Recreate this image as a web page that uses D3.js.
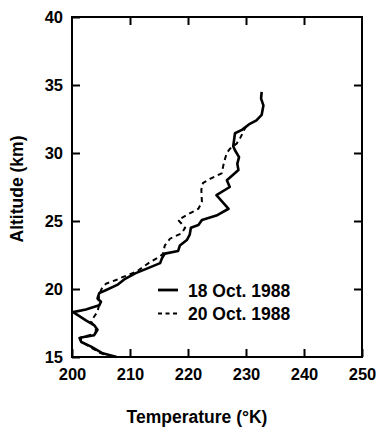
<!DOCTYPE html>
<html>
<head>
<meta charset="utf-8">
<script src="https://cdn.jsdelivr.net/npm/d3@7"></script>
<style>
  body { margin: 0; background: #fff; }
  text { font-family: "Liberation Sans", Arial, sans-serif; font-weight: bold; fill: #000; }
</style>
</head>
<body>
<div id="chart"></div>
<script>
// temperature profiles, 18 & 20 Oct 1988
const alt18 = [15.0, 15.27, 15.76, 16.1, 16.4, 16.5, 16.6, 17.0, 17.35, 17.7, 18.3, 18.5, 18.8, 19.07, 19.3, 19.7, 19.93, 20.3, 20.7, 21.15, 21.5, 21.9, 22.25, 22.6, 22.8, 23.2, 23.6, 24.0, 24.5, 24.7, 25.07, 25.4, 25.9, 26.9, 27.5, 28.0, 28.75, 29.2, 29.7, 30.2, 30.5, 31.45, 31.7, 32.1, 32.4, 32.8, 33.5, 34.0, 34.5];
const temp18 = [207.7, 205.3, 203.3, 201.6, 201.3, 202.4, 203.8, 204.4, 203.8, 202.4, 200.2, 202.4, 204.7, 205.0, 204.4, 204.7, 205.9, 207.8, 209.0, 210.9, 212.9, 215.2, 215.5, 216.0, 218.3, 218.6, 219.8, 220.3, 220.5, 221.8, 222.4, 224.9, 227.0, 224.9, 227.2, 226.7, 228.7, 228.5, 228.8, 228.1, 227.8, 228.1, 229.3, 230.5, 231.8, 232.7, 233.0, 232.6, 232.7];

const alt20 = [15.0, 15.3, 15.8, 16.15, 16.45, 16.6, 16.8, 17.1, 17.6, 17.96, 18.33, 18.7, 19.3, 19.7, 20.1, 20.4, 20.66, 20.8, 21.3, 21.9, 22.4, 22.6, 23.2, 23.7, 24.1, 24.5, 24.8, 25.07, 25.5, 25.9, 26.4, 27.3, 27.8, 28.1, 28.5, 29.1, 29.6, 30.0, 30.3, 30.7, 31.1, 31.8, 32.1];
const temp20 = [207.0, 204.8, 202.9, 201.5, 201.6, 203.0, 204.1, 204.1, 203.3, 203.8, 204.4, 204.6, 204.6, 204.8, 205.2, 205.9, 207.6, 208.3, 211.2, 213.2, 215.2, 215.7, 216.0, 216.9, 218.9, 219.5, 218.9, 218.3, 220.0, 221.8, 222.4, 222.3, 222.6, 223.8, 225.8, 226.1, 226.4, 226.7, 227.2, 228.4, 229.0, 229.8, 230.3];

const xTicks = [200, 210, 220, 230, 240, 250];
const yTicks = [15, 20, 25, 30, 35, 40];
const legendLabels = ["18 Oct. 1988", "20 Oct. 1988"];

const width = 378, height = 430;
const margin = { top: 17, right: 16, bottom: 73, left: 72 };
const innerW = width - margin.left - margin.right;
const innerH = height - margin.top - margin.bottom;

const svg = d3.select("#chart").append("svg")
    .attr("width", width)
    .attr("height", height);

const g = svg.append("g").attr("transform", `translate(${margin.left},${margin.top})`);

const x = d3.scaleLinear().domain([200, 250]).range([0, innerW]);
const y = d3.scaleLinear().domain([15, 40]).range([innerH, 0]);

// frame
g.append("rect")
    .attr("width", innerW)
    .attr("height", innerH)
    .attr("fill", "none")
    .attr("stroke", "#000")
    .attr("stroke-width", 2);

// inward ticks on all four sides
const tickLen = 8;
function styleAxis(sel) {
    sel.select(".domain").remove();
    sel.selectAll(".tick line").attr("stroke", "#000").attr("stroke-width", 2);
}
g.append("g").attr("transform", `translate(0,${innerH})`)
    .call(d3.axisBottom(x).tickValues(xTicks).tickSize(-tickLen).tickPadding(11).tickFormat(d3.format("d")))
    .call(styleAxis);
g.append("g")
    .call(d3.axisTop(x).tickValues(xTicks.slice(1, -1)).tickSize(-tickLen).tickFormat(""))
    .call(styleAxis);
g.append("g")
    .call(d3.axisLeft(y).tickValues(yTicks).tickSize(-tickLen).tickPadding(9).tickFormat(d3.format("d")))
    .call(styleAxis);
g.append("g").attr("transform", `translate(${innerW},0)`)
    .call(d3.axisRight(y).tickValues(yTicks.slice(1, -1)).tickSize(-tickLen).tickFormat(""))
    .call(styleAxis);
svg.selectAll(".tick text")
    .attr("fill", "#000")
    .attr("font-size", 16.5)
    .style("font-family", "'Liberation Sans', Arial, sans-serif")
    .style("font-weight", "bold");

// profiles
const line = d3.line().x(d => x(d[0])).y(d => y(d[1]));
const data18 = temp18.map((t, i) => [t, alt18[i]]);
const data20 = temp20.map((t, i) => [t, alt20[i]]);

g.append("path").datum(data20)
    .attr("d", line)
    .attr("fill", "none")
    .attr("stroke", "#000")
    .attr("stroke-width", 2)
    .attr("stroke-dasharray", "5,4");
g.append("path").datum(data18)
    .attr("d", line)
    .attr("fill", "none")
    .attr("stroke", "#000")
    .attr("stroke-width", 2.6)
    .attr("stroke-linejoin", "round");

// legend
const legend = svg.append("g").attr("transform", "translate(158,290)");
legendLabels.forEach((lab, i) => {
    const row = legend.append("g").attr("transform", `translate(0,${i * 23.5})`);
    row.append("line")
        .attr("x1", 0).attr("x2", 20)
        .attr("stroke", "#000")
        .attr("stroke-width", i === 0 ? 2.8 : 2)
        .attr("stroke-dasharray", i === 0 ? null : "4,3.5");
    row.append("text")
        .attr("x", 30).attr("y", 6.5)
        .attr("font-size", 17.5)
        .text(lab);
});

// axis titles
svg.append("text")
    .attr("x", 197).attr("y", 423)
    .attr("text-anchor", "middle")
    .attr("font-size", 17.5)
    .text("Temperature (°K)");
svg.append("text")
    .attr("transform", "translate(23,189) rotate(-90)")
    .attr("text-anchor", "middle")
    .attr("font-size", 17.5)
    .text("Altitude (km)");
</script>
</body>
</html>
